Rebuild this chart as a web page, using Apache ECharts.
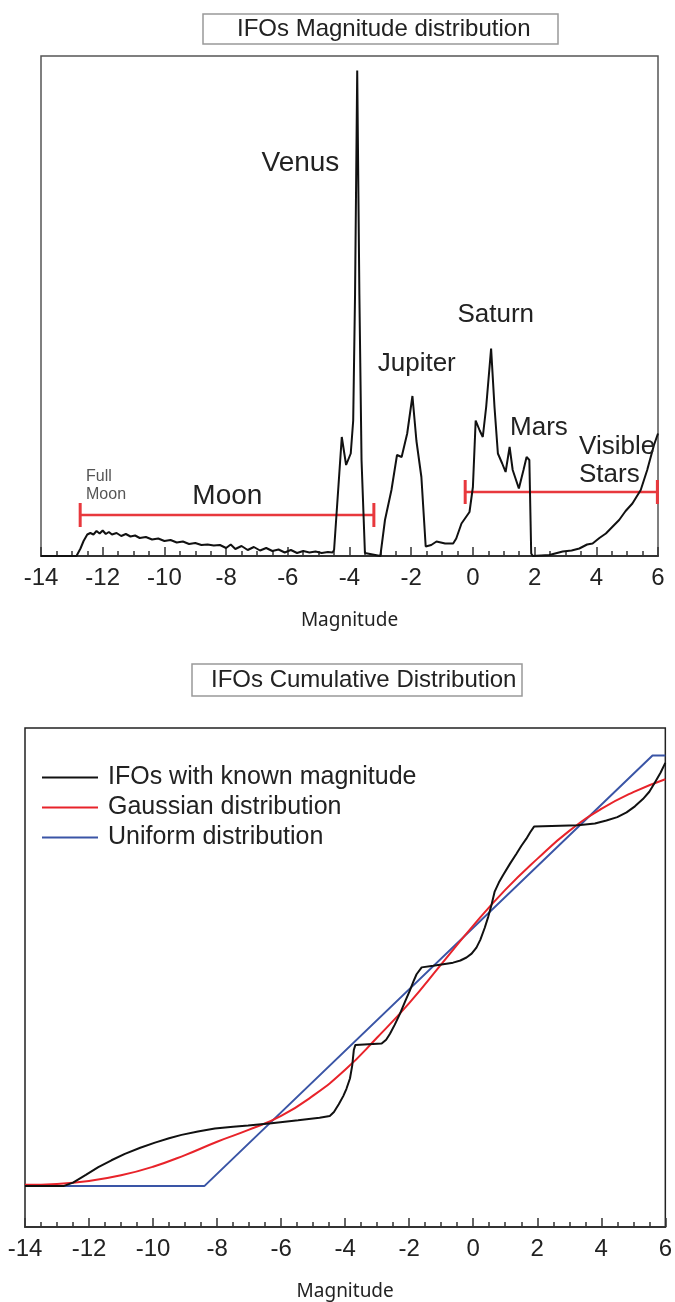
<!DOCTYPE html>
<html>
	<head>
		<meta charset="UTF-8">
		<title>IFOs magnitude</title>
		<script src="https://cdn.jsdelivr.net/npm/echarts@6/dist/echarts.min.js"></script>
	</head>
	<body style="margin:0;background:#fff;">
		<div id="ifo_chart" style="width:675px;height:1302px;"></div>
		<script>
			// x axis: magnitude, labels every 2
			var magMin = -14, magMax = 6, magStep = 2;

			// top chart: IFO count vs magnitude (relative units, peak ~100)
			var magDist = [
				[-14, 0], [-12.85, 0], [-12.72, 1.5], [-12.62, 3.0], [-12.5, 4.3], [-12.4, 4.6], [-12.3, 4.3],
				[-12.2, 5.0], [-12.1, 4.5], [-12.0, 5.1], [-11.9, 4.4], [-11.8, 4.8], [-11.7, 4.3], [-11.55, 4.6],
				[-11.4, 4.0], [-11.25, 4.4], [-11.1, 3.9], [-10.95, 4.1], [-10.8, 3.6], [-10.6, 3.8], [-10.4, 3.3],
				[-10.2, 3.5], [-10.0, 3.0], [-9.8, 3.2], [-9.6, 2.7], [-9.4, 2.9], [-9.2, 2.4], [-9.0, 2.6],
				[-8.8, 2.2], [-8.6, 2.3], [-8.4, 2.1], [-8.2, 2.2], [-8.0, 1.6], [-7.85, 2.3], [-7.7, 1.4],
				[-7.5, 2.0], [-7.3, 1.2], [-7.1, 1.8], [-6.9, 1.1], [-6.7, 1.6], [-6.5, 1.0], [-6.3, 1.3],
				[-6.1, 0.7], [-5.9, 1.2], [-5.7, 0.6], [-5.5, 1.0], [-5.3, 0.7], [-5.1, 0.9], [-4.9, 0.6],
				[-4.7, 0.8], [-4.55, 0.7],
				[-4.5, 1.2], [-4.25, 23.8], [-4.11, 18.2], [-3.96, 20.5], [-3.88, 27.1], [-3.82, 52.4],
				[-3.75, 97.1], [-3.68, 52.4], [-3.61, 19.2], [-3.5, 0.6], [-3.0, 0],
				[-2.85, 7.2], [-2.64, 13.2], [-2.46, 20.2], [-2.31, 19.8], [-2.13, 24.5], [-1.96, 32.0],
				[-1.83, 23.0], [-1.67, 15.8], [-1.53, 1.9], [-1.35, 2.2], [-1.18, 2.9], [-0.9, 2.5],
				[-0.64, 2.5], [-0.54, 3.5], [-0.37, 6.5], [-0.11, 8.8], [0.0, 13.8], [0.09, 27.1],
				[0.22, 25.1], [0.32, 23.8], [0.43, 29.8], [0.59, 41.5], [0.70, 29.8], [0.81, 20.5],
				[0.95, 18.5], [1.06, 16.8], [1.19, 21.8], [1.29, 17.2], [1.49, 13.5], [1.64, 17.2],
				[1.74, 19.8], [1.83, 19.2], [1.89, 0.5], [1.94, 0], [2.48, 0.2], [2.91, 0.9], [3.2, 1.1],
				[3.45, 1.5], [3.7, 2.3], [3.88, 2.5], [4.1, 3.6], [4.31, 4.5], [4.5, 5.7], [4.74, 7.2],
				[4.95, 9.0], [5.17, 10.5], [5.44, 13.2], [5.65, 17.2], [5.87, 22.2], [6.0, 24.5]
			];

			// red range bars
			var moonRange = [[-12.73, 8.2], [-3.21, 8.2]];
			var starsRange = [[-0.25, 12.8], [5.98, 12.8]];

			// annotations [text, magnitude, value, fontSize, align]
			var topLabels = [
				["Venus", -5.59, 78.6, 28, "center"],
				["Jupiter", -1.82, 38.5, 26, "center"],
				["Saturn", 0.74, 48.3, 26, "center"],
				["Mars", 2.14, 25.7, 26, "center"],
				["Visible\nStars", 3.44, 19.0, 26, "left"],
				["Moon", -7.96, 12.0, 28, "center"],
				["Full\nMoon", -12.54, 14.0, 16, "left"]
			];

			// bottom chart: cumulative fraction vs magnitude
			var ifoCum = [
				[-14, 0], [-12.8, 0], [-12.5, 0.008], [-12.1, 0.026], [-11.71, 0.044], [-11.3, 0.06],
				[-10.88, 0.075], [-10.4, 0.089], [-9.94, 0.101], [-9.5, 0.111], [-9.11, 0.119], [-8.6, 0.127],
				[-8.07, 0.134], [-7.5, 0.138], [-7.03, 0.141], [-6.30, 0.146], [-5.47, 0.153], [-4.8, 0.159],
				[-4.48, 0.163], [-4.35, 0.172], [-4.2, 0.19], [-4.06, 0.209], [-3.96, 0.226], [-3.85, 0.25],
				[-3.78, 0.28], [-3.73, 0.316], [-3.68, 0.328], [-3.63, 0.331], [-2.86, 0.331], [-2.72, 0.34],
				[-2.60, 0.354], [-2.45, 0.375], [-2.29, 0.40], [-2.12, 0.43], [-1.98, 0.454], [-1.87, 0.475],
				[-1.77, 0.492], [-1.61, 0.508], [-1.25, 0.512], [-0.63, 0.519], [-0.4, 0.524], [-0.21, 0.531],
				[-0.05, 0.54], [0.10, 0.554], [0.22, 0.572], [0.36, 0.60], [0.47, 0.626], [0.57, 0.653],
				[0.67, 0.684], [0.8, 0.705], [0.93, 0.722], [1.15, 0.749], [1.35, 0.772], [1.5, 0.79],
				[1.66, 0.807], [1.78, 0.822], [1.90, 0.835], [3.27, 0.838], [3.8, 0.842], [4.16, 0.849],
				[4.5, 0.857], [4.79, 0.868], [5.05, 0.882], [5.30, 0.899], [5.5, 0.916], [5.67, 0.937],
				[5.85, 0.96], [6.0, 0.983]
			];
			var gaussCum = [
				[-14, 0.003], [-13, 0.005], [-12, 0.012], [-11, 0.025], [-10, 0.045], [-9, 0.072],
				[-8, 0.103], [-7, 0.131], [-6, 0.163], [-5, 0.21], [-4, 0.27], [-3, 0.345], [-2, 0.425],
				[-1, 0.515], [0, 0.605], [1, 0.688], [2, 0.76], [3, 0.825], [4, 0.876], [5, 0.915],
				[6, 0.945]
			];
			var uniformCum = [[-14, 0], [-8.4, 0], [5.6, 1], [6, 1]];

			var seriesNames = ["IFOs with known magnitude", "Gaussian distribution", "Uniform distribution"];

			var txt = "#222";
			var sans = "'Liberation Sans', Arial, sans-serif";

			function makeXAxis(gridIndex, gap) {
				return {
					gridIndex: gridIndex,
					type: 'value',
					min: magMin, max: magMax, interval: magStep,
					name: 'Magnitude', nameLocation: 'middle', nameGap: gap,
					nameTextStyle: {fontFamily: "'Noto Sans', sans-serif", fontSize: 19, color: txt},
					axisLine: {onZero: false, lineStyle: {color: '#333', width: 2}},
					axisTick: {inside: true, length: 9, lineStyle: {color: '#333', width: 1.5}},
					minorTick: {show: true, splitNumber: 4, length: 5, lineStyle: {color: '#333', width: 1.5}},
					axisLabel: {fontFamily: sans, fontSize: 24, color: txt, margin: 10},
					splitLine: {show: false}
				};
			}
			function makeYAxis(gridIndex, min, max) {
				return {
					gridIndex: gridIndex, type: 'value', min: min, max: max,
					axisLine: {show: false}, axisTick: {show: false},
					axisLabel: {show: false}, splitLine: {show: false}
				};
			}

			var labelData = topLabels.map(function (l) {
				return {
					value: [l[1], l[2]],
					label: {
						show: true,
						formatter: l[0],
						position: l[4] == 'left' ? 'right' : 'inside',
						distance: 0,
						fontFamily: sans,
						fontSize: l[3],
						lineHeight: l[3] + 2,
						color: l[3] < 20 ? '#555' : txt
					}
				};
			});

			var rangeStyle = {
				type: 'line', xAxisIndex: 0, yAxisIndex: 0,
				symbol: 'rect', symbolSize: [3, 24], showSymbol: true,
				itemStyle: {color: '#e8383d'},
				lineStyle: {color: '#e8383d', width: 2.5},
				silent: true, z: 3
			};

			var option = {
				animation: false,
				title: [{
					text: 'IFOs Magnitude distribution',
					left: 203, top: 14,
					padding: [3, 28, 3, 34],
					borderColor: '#999', borderWidth: 1.5,
					textStyle: {fontFamily: sans, fontSize: 24, fontWeight: 'normal', color: txt, lineHeight: 24}
				}, {
					text: 'IFOs Cumulative Distribution',
					left: 192, top: 664,
					padding: [4, 6, 4, 19],
					borderColor: '#999', borderWidth: 1.5,
					textStyle: {fontFamily: sans, fontSize: 24, fontWeight: 'normal', color: txt, lineHeight: 24}
				}],
				grid: [
					{left: 41, top: 56, width: 617, height: 500, show: true, borderColor: '#555', borderWidth: 1.5},
					{left: 25, top: 728, width: 641, height: 503, show: true, borderColor: '#222', borderWidth: 1.5}
				],
				xAxis: [makeXAxis(0, 55), makeXAxis(1, 55)],
				yAxis: [makeYAxis(0, 0, 100), makeYAxis(1, -0.095, 1.064)],
				legend: {
					data: seriesNames,
					orient: 'vertical',
					left: 37, top: 760,
					icon: 'rect', itemWidth: 56, itemHeight: 2, itemGap: 5,
					textStyle: {fontFamily: sans, fontSize: 25, color: txt, lineHeight: 24, padding: [0, 0, 0, 5]},
					selectedMode: false
				},
				series: [
					{
						type: 'line', xAxisIndex: 0, yAxisIndex: 0,
						data: magDist, showSymbol: false,
						lineStyle: {color: '#111', width: 2}, z: 4
					},
					Object.assign({data: moonRange}, rangeStyle),
					Object.assign({data: starsRange}, rangeStyle),
					{
						type: 'scatter', xAxisIndex: 0, yAxisIndex: 0,
						symbolSize: 0, data: labelData, silent: true, z: 5,
						itemStyle: {opacity: 1}
					},
					{
						name: seriesNames[0], type: 'line', xAxisIndex: 1, yAxisIndex: 1,
						data: ifoCum, showSymbol: false,
						itemStyle: {color: '#111'}, lineStyle: {color: '#111', width: 2}, z: 4
					},
					{
						name: seriesNames[1], type: 'line', xAxisIndex: 1, yAxisIndex: 1,
						data: gaussCum, showSymbol: false, smooth: true,
						itemStyle: {color: '#e8232a'}, lineStyle: {color: '#e8232a', width: 2}, z: 3
					},
					{
						name: seriesNames[2], type: 'line', xAxisIndex: 1, yAxisIndex: 1,
						data: uniformCum, showSymbol: false,
						itemStyle: {color: '#3a55a6'}, lineStyle: {color: '#3a55a6', width: 2}, z: 2
					}
				]
			};

			var myChart = echarts.init(document.getElementById('ifo_chart'));
			myChart.setOption(option);
		</script>
	</body>
</html>
